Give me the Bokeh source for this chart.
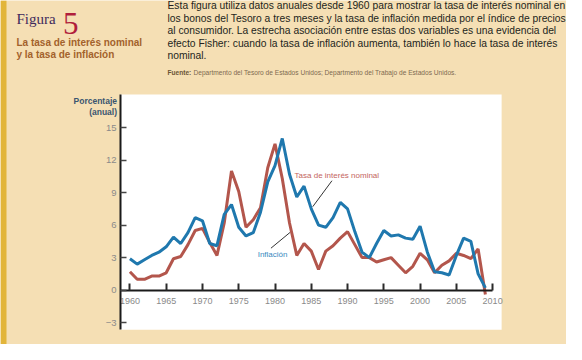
from bokeh.plotting import figure
from bokeh.models import Label, BoxAnnotation, FixedTicker, Range1d
from bokeh.embed import file_html
from bokeh.resources import INLINE
import numpy as np

years = list(range(1960, 2010))
nominal = [2.9, 2.4, 2.8, 3.2, 3.5, 4.0, 4.9, 4.3, 5.3, 6.7,
           6.4, 4.3, 4.1, 7.0, 7.9, 5.8, 5.0, 5.3, 7.2, 10.0,
           11.5, 14.0, 10.7, 8.6, 9.6, 7.5, 6.0, 5.8, 6.7, 8.1,
           7.5, 5.4, 3.5, 3.0, 4.3, 5.5, 5.0, 5.1, 4.8, 4.7,
           5.9, 3.5, 1.7, 1.6, 1.4, 3.2, 4.8, 4.5, 1.5, 0.2]
inflation = [1.7, 1.0, 1.0, 1.3, 1.3, 1.6, 2.9, 3.1, 4.2, 5.5,
             5.7, 4.4, 3.2, 6.2, 11.0, 9.1, 5.8, 6.5, 7.6, 11.3,
             13.5, 10.3, 6.2, 3.2, 4.3, 3.6, 1.9, 3.6, 4.1, 4.8,
             5.4, 4.2, 3.0, 3.0, 2.6, 2.8, 3.0, 2.3, 1.6, 2.2,
             3.4, 2.8, 1.6, 2.3, 2.7, 3.4, 3.2, 2.9, 3.8, -0.4]
x_ticks = [1960, 1965, 1970, 1975, 1980, 1985, 1990, 1995, 2000, 2005, 2010]
y_ticks = [-3, 0, 3, 6, 9, 12, 15]

series_names = ["Tasa de interés nominal", "Inflación"]
title_word = "Figura"
title_num = "5"
subtitle = ["La tasa de interés nominal", "y la tasa de inflación"]
paragraph = [
    "Esta figura utiliza datos anuales desde 1960 para mostrar la tasa de interés nominal en",
    "los bonos del Tesoro a tres meses y la tasa de inflación medida por el índice de precios",
    "al consumidor. La estrecha asociación entre estas dos variables es una evidencia del",
    "efecto Fisher: cuando la tasa de inflación aumenta, también lo hace la tasa de interés",
    "nominal.",
]
source_head = "Fuente:"
source_body = "Departmento del Tesoro de  Estados Unidos; Departmento del Trabajo de Estados Unidos."
y_title = ["Porcentaje", "(anual)"]

# plot-area extent (data units) and the whole canvas extent
X_LO, X_HI = 1958.7, 2011.24
Y_LO, Y_HI = -3.65, 18.05
CX_LO, CX_HI = 1942.157, 2020.183
CY_LO, CY_HI = -5.023, 26.741

BEIGE = "#F5DFB4"
GOLD = "#E2B53A"
BLUE = "#1F78AE"
RED = "#B3564C"
SANS = "Liberation Sans"

p = figure(width=566, height=344, output_backend="svg", toolbar_location=None,
           x_range=Range1d(CX_LO, CX_HI), y_range=Range1d(CY_LO, CY_HI),
           min_border=0, min_border_left=0, min_border_right=0,
           min_border_top=0, min_border_bottom=0)
p.border_fill_color = BEIGE
p.background_fill_color = BEIGE
p.outline_line_color = None
p.grid.visible = False

# white plot area
p.quad(left=[X_LO], right=[X_HI], bottom=[Y_LO], top=[Y_HI],
       fill_color="white", line_color=None)

# x axis at y = 0
xa = p.xaxis[0]
xa.fixed_location = 0
xa.ticker = FixedTicker(ticks=x_ticks)
xa.bounds = (X_LO, 2010)
xa.axis_line_width = 2
xa.axis_line_color = "#1a1a1a"
xa.major_tick_in = 7
xa.major_tick_out = 0
xa.major_tick_line_width = 2
xa.major_tick_line_color = "#2a2a2a"
xa.minor_tick_line_color = None
xa.major_label_standoff = 8
xa.major_label_text_color = "#8a8a8a"
xa.major_label_text_font = SANS
xa.major_label_text_font_size = "9px"

ya = p.yaxis[0]
ya.fixed_location = X_LO
ya.ticker = FixedTicker(ticks=y_ticks)
ya.bounds = (Y_LO, Y_HI)
ya.axis_line_width = 2
ya.axis_line_color = "#1a1a1a"
ya.major_tick_in = 6
ya.major_tick_out = 0
ya.major_tick_line_width = 1.5
ya.major_tick_line_color = "#444444"
ya.minor_tick_line_color = None
ya.major_label_standoff = 4
ya.major_label_text_color = "#8a8a8a"
ya.major_label_text_font = SANS
ya.major_label_text_font_size = "9.5px"
ya.major_label_overrides = {-3: "\u22123"}

p.line(years, inflation, line_color=RED, line_width=3)
p.line(years, nominal, line_color=BLUE, line_width=3)

# leader lines derived from the series
ax_n = 1985.2
ay_n = float(np.interp(ax_n, years, nominal)) + 0.5
ax_i = 1982.06
ay_i = float(np.interp(ax_i, years, inflation)) - 0.7
p.segment(x0=[ax_n, ax_i], y0=[ay_n, ay_i], x1=[ax_n + 2.65, ax_i - 2.62],
          y1=[ay_n + 2.4, ay_i - 1.45], line_color="#333333", line_width=1)

p.add_layout(Label(x=ax_n - 2.5, y=ay_n + 2.9, text=series_names[0],
                   text_font=SANS, text_font_size="8px", text_color="#C4655E",
                   text_baseline="middle", text_align="left"))
p.add_layout(Label(x=ax_i - 4.45, y=ay_i - 2.0, text=series_names[1],
                   text_font=SANS, text_font_size="8px", text_color="#3A8AC0",
                   text_baseline="middle", text_align="left"))

# header: reference pixel (X, Y) -> screen units of the canvas frame
def lab(X, Y, text, **kw):
    p.add_layout(Label(x=X - 8, y=352 - Y, x_units="screen", y_units="screen",
                       text=text, **kw))

p.add_layout(BoxAnnotation(left=0, right=6, bottom=0, top=344,
                           left_units="screen", right_units="screen",
                           bottom_units="screen", top_units="screen",
                           fill_color=GOLD, fill_alpha=1.0, line_color=None))

lab(24, 26, title_word, text_font="Liberation Serif", text_font_size="15px",
    text_color="#3F2A5C", text_baseline="alphabetic")
lab(70.5, 30.5, title_num, text_font="Liberation Serif", text_font_size="31px",
    text_color="#B01E3C", text_baseline="alphabetic")
for i, s in enumerate(subtitle):
    lab(24, 50 + i * 11.7, s, text_font=SANS, text_font_style="bold",
        text_font_size="10px", text_color="#A3622C", text_baseline="alphabetic")
for i, s in enumerate(paragraph):
    lab(175, 13.3 + i * 12.5, s, text_font=SANS, text_font_size="10.3px",
        text_color="#231F20", text_baseline="middle")
lab(175, 80, source_head, text_font=SANS, text_font_style="bold",
    text_font_size="6.6px", text_color="#6B5535", text_baseline="middle")
lab(201, 80, source_body, text_font=SANS, text_font_size="6.6px",
    text_color="#7E6A50", text_baseline="middle")
for i, s in enumerate(y_title):
    lab(124.5, 108.3 + i * 10.7, s, text_font=SANS, text_font_style="bold",
        text_font_size="8.5px", text_color="#3A5570", text_baseline="middle",
        text_align="right")

open("out.html", "w").write(file_html(p, INLINE))
